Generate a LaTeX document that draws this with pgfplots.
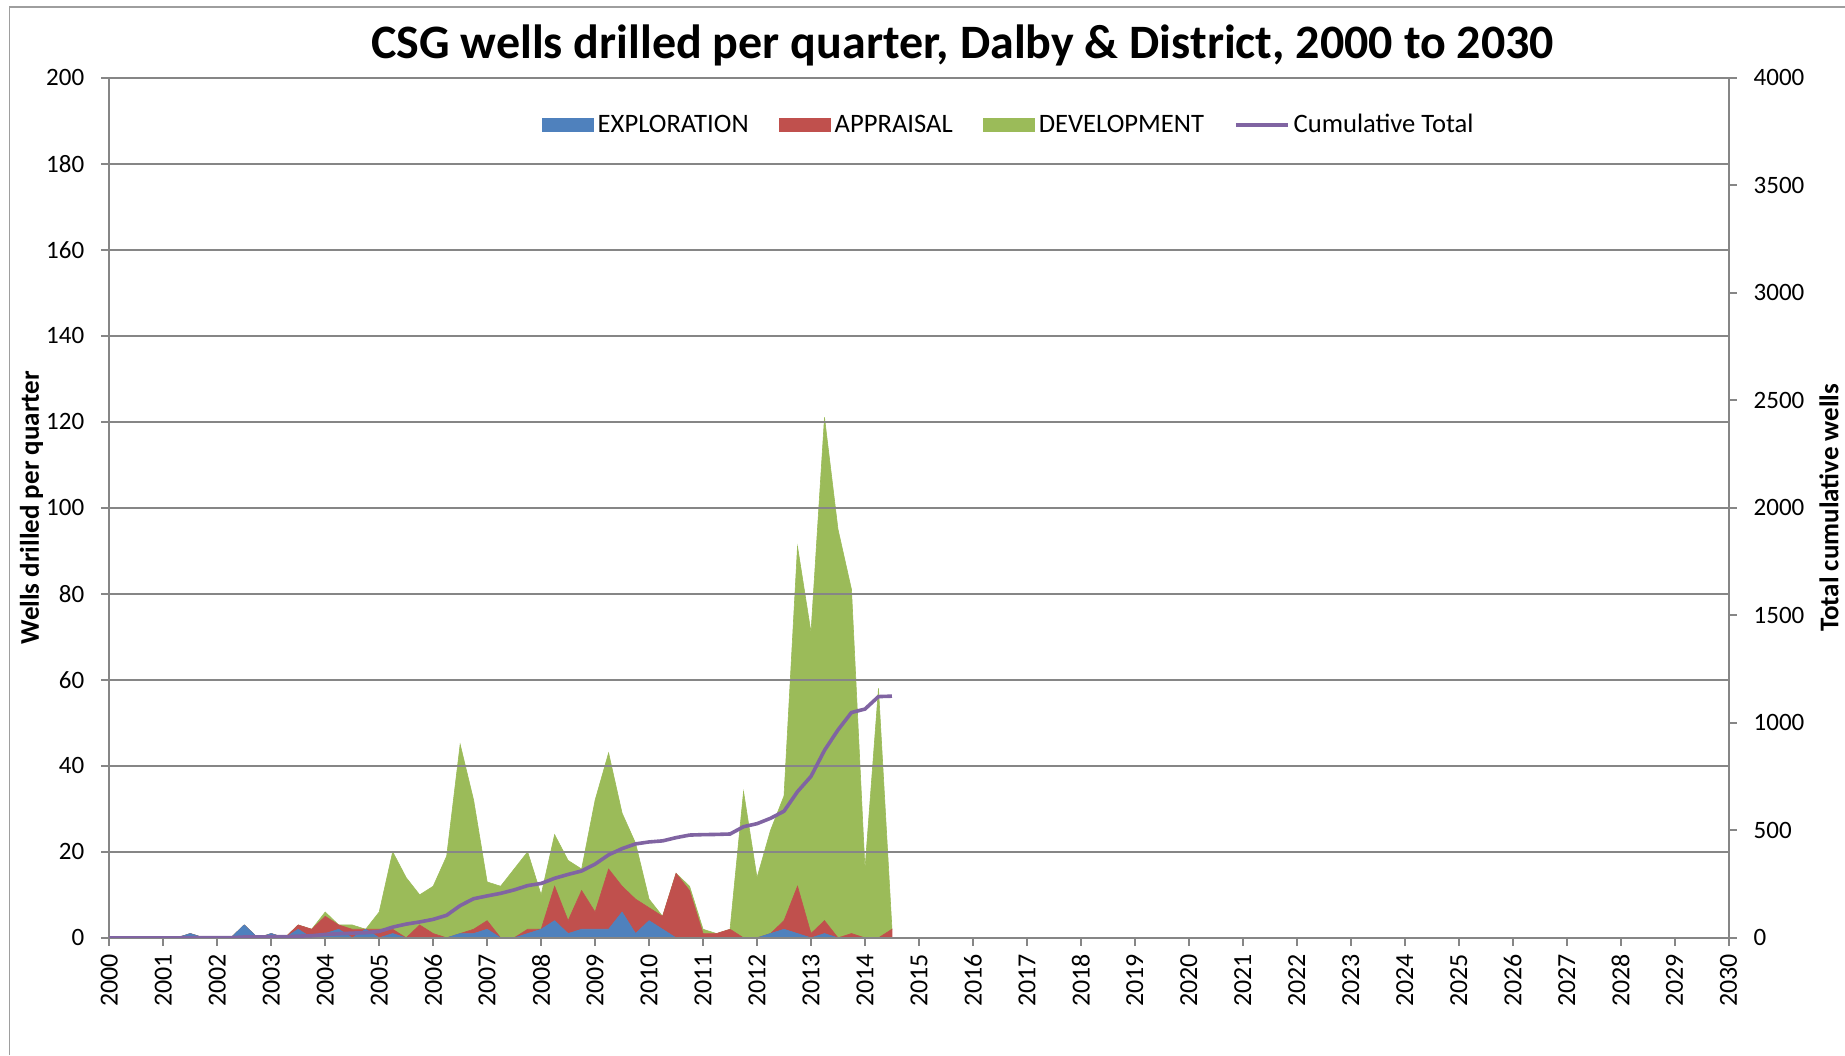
\documentclass[border=0pt]{standalone}
\usepackage{fontspec}
\setmainfont{Carlito}
\usepackage{pgfplots}
\pgfplotsset{compat=1.18}
\usepackage{pgfplotstable}

\definecolor{expl}{HTML}{4F81BD}
\definecolor{appr}{HTML}{C0504D}
\definecolor{dev}{HTML}{9BBB59}
\definecolor{cum}{HTML}{8064A2}
\definecolor{axisgray}{HTML}{868686}

\pgfplotsset{
  boxlegend/.style={legend image code/.code={\fill[##1, draw=none] (0pt,-3.6pt) rectangle (26pt,3.6pt);}},
  linelegend/.style={legend image code/.code={\draw[##1] (0pt,0pt) -- (26pt,0pt);}},
}

% quarterly wells: exploration, appraisal, development, running total
\pgfplotstableread{
year    expl appr dev cum
2000.00 0 0 0 0
2000.25 0 0 0 0
2000.50 0 0 0 0
2000.75 0 0 0 0
2001.00 0 0 0 0
2001.25 0 0 0 0
2001.50 1 0 0 1
2001.75 0 0 0 1
2002.00 0 0 0 1
2002.25 0 0 0 1
2002.50 3 0 0 4
2002.75 0 0 0 4
2003.00 1 0 0 5
2003.25 0 0 0 5
2003.50 2 1 0 8
2003.75 0 2 0 10
2004.00 1 4 1 16
2004.25 2 1 0 19
2004.50 0 2 1 22
2004.75 2 0 0 24
2005.00 0 2 4 30
2005.25 1 1 18 50
2005.50 0 0 14 64
2005.75 0 3 7 74
2006.00 0 1 11 86
2006.25 0 0 19 105
2006.50 1 0 44 150
2006.75 1 1 30 182
2007.00 2 2 9 195
2007.25 0 0 12 207
2007.50 0 0 16 223
2007.75 1 1 18 243
2008.00 2 0 8 253
2008.25 4 8 12 277
2008.50 1 3 14 295
2008.75 2 9 5 311
2009.00 2 4 26 343
2009.25 2 14 27 386
2009.50 6 6 17 415
2009.75 1 8 13 437
2010.00 4 3 2 446
2010.25 2 3 0 451
2010.50 0 15 0 466
2010.75 0 11 1 478
2011.00 0 1 1 480
2011.25 0 1 0 481
2011.50 0 2 0 483
2011.75 0 0 34 517
2012.00 0 0 14 531
2012.25 1 0 24 556
2012.50 2 2 29 589
2012.75 1 11 79 680
2013.00 0 1 70 751
2013.25 1 3 117 872
2013.50 0 0 95 967
2013.75 0 1 80 1048
2014.00 0 0 16 1064
2014.25 0 0 58 1122
2014.50 0 2 0 1124
}\wells

\begin{document}
\begin{tikzpicture}
\path[use as bounding box] (-54.65pt,-58.6pt) rectangle (867.7pt,468.85pt);
\draw[axisgray!80, line width=0.8pt] (-49.9pt,-58.6pt) -- (-49.9pt,465.3pt) -- (867.7pt,465.3pt);

\begin{axis}[
    scale only axis,
    width=809.5pt, height=430pt,
    xmin=2000, xmax=2030,
    ymin=0, ymax=200,
    xtick={2000,2001,...,2030},
    ytick={0,20,...,200},
    axis y line*=left, axis x line*=bottom,
    every outer x axis line/.append style={-},
    every outer y axis line/.append style={-},
    axis line style={-, axisgray, line width=1pt},
    ymajorgrids,
    grid style={axisgray, line width=0.9pt},
    tick style={axisgray, line width=0.9pt},
    tick align=outside,
    major tick length=4pt,
    /pgf/number format/assume math mode=true,
    /pgf/number format/1000 sep={},
    xticklabel shift=0.5pt,
    xticklabel style={rotate=90, anchor=east, font=\fontsize{13}{14}\selectfont},
    yticklabel style={font=\fontsize{12.5}{14}\selectfont, xshift=-5pt},
    ylabel={Wells drilled per quarter},
    ylabel style={at={(axis description cs:-0.048,0.5)}, anchor=center,
        font=\bfseries\fontsize{13.5}{15}\selectfont},
    title={CSG wells drilled per quarter, Dalby \& District, 2000 to 2030},
    title style={at={(axis description cs:0.527,1.023)}, anchor=center,
        font=\bfseries\fontsize{24}{28}\selectfont},
    stack plots=y,
    area style,
]
\addplot[fill=expl, draw=expl, line width=0.3pt] table[x=year, y=expl] {\wells} \closedcycle;
\addplot[fill=appr, draw=appr, line width=0.3pt] table[x=year, y=appr] {\wells} \closedcycle;
\addplot[fill=dev, draw=dev, line width=0.3pt] table[x=year, y=dev] {\wells} \closedcycle;
\end{axis}

\begin{axis}[
    scale only axis,
    width=809.5pt, height=430pt,
    xmin=2000, xmax=2030,
    ymin=0, ymax=4000,
    ytick={0,500,...,4000},
    axis y line*=right, axis x line=none,
    every outer y axis line/.append style={-},
    axis line style={-, axisgray, line width=1pt},
    tick style={axisgray, line width=0.9pt},
    tick align=outside,
    major tick length=4pt,
    /pgf/number format/assume math mode=true,
    /pgf/number format/1000 sep={},
    yticklabel style={font=\fontsize{12.5}{14}\selectfont, xshift=5pt},
    ylabel={Total cumulative wells},
    ylabel style={at={(axis description cs:1.062,0.5)}, anchor=center,
        font=\bfseries\fontsize{13.5}{15}\selectfont},
    legend columns=4,
    legend style={at={(axis description cs:0.556,0.945)}, anchor=center,
        draw=none, fill=none, font=\fontsize{13.3}{15}\selectfont,
        /tikz/every even column/.append style={column sep=13pt}},
]
\addlegendimage{boxlegend, fill=expl}
\addlegendentry{EXPLORATION}
\addlegendimage{boxlegend, fill=appr}
\addlegendentry{APPRAISAL}
\addlegendimage{boxlegend, fill=dev}
\addlegendentry{DEVELOPMENT}
\addplot[cum, line width=1.8pt, linelegend] table[x=year, y=cum] {\wells};
\addlegendentry{Cumulative Total}
\end{axis}
\end{tikzpicture}
\end{document}
